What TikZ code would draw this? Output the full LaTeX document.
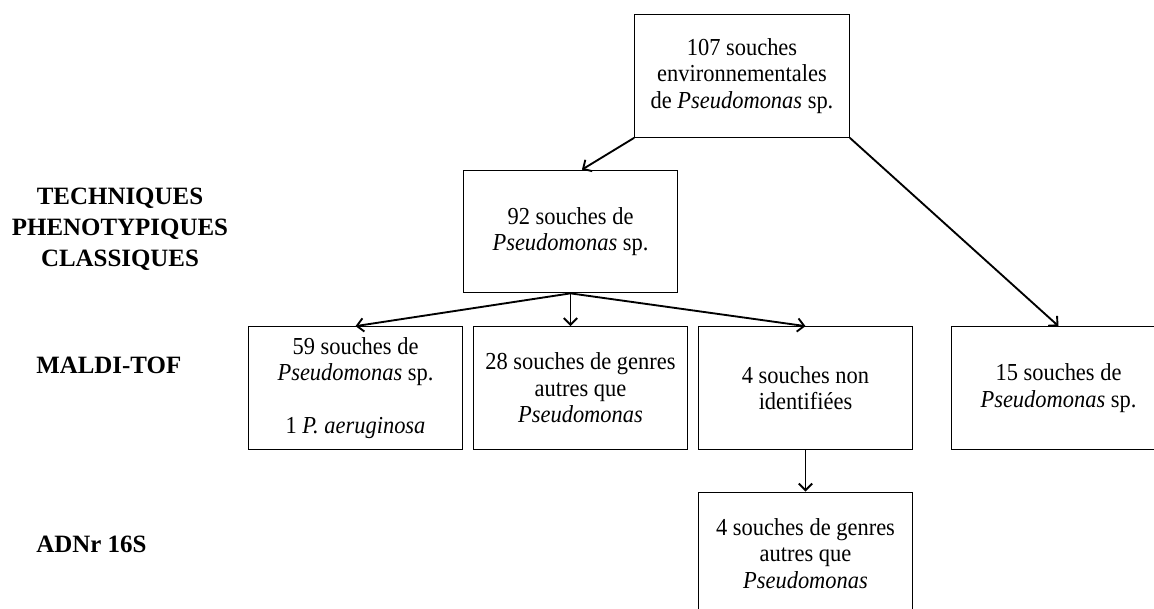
\documentclass[tikz,border=0pt]{standalone}
\usepackage{fontspec}
\setmainfont{Liberation Serif}
\newfontfamily\corps[FakeStretch=0.92]{Liberation Serif}
\usepackage{tikz}
\usetikzlibrary{positioning}
\usetikzlibrary{arrows.meta}
\tikzset{
    souche/.style={draw, line width=0.8pt, minimum width=161pt, minimum height=92pt, align=center, inner sep=2pt, font=\corps\fontsize{18.3pt}{19.9pt}\selectfont}, % 方框的样式
    fleche/.style={line width=1.4pt, -{Straight Barb[length=5pt, width=10pt]}}, % 箭头的样式
    technique/.style={inner sep=0pt, align=center, font=\fontsize{18.7pt}{23.2pt}\selectfont\bfseries} % 左侧标题的样式
}

\begin{document}
\begin{tikzpicture}[x=0.75pt, y=-0.75pt]
          \useasboundingbox (0,0) rectangle (1154,609);
          \clip (0,0) rectangle (1154,609);

          % --- 1. 左侧的方法标题 ---
          \node[technique] (phenotype) at (120,229) {TECHNIQUES\\PHENOTYPIQUES\\CLASSIQUES};
          \node[technique, anchor=west] (maldi) at (36,365) {MALDI-TOF};
          \node[technique, anchor=west] (adnr) at (36,544) {ADNr 16S};

          % --- 2. 上面两层方框 ---
          \node[souche] (total) at (742,76) {107 souches\\environnementales\\de \textit{Pseudomonas} sp.};
          \node[souche] (p92) at (570.5,231.5) {92 souches de\\\textit{Pseudomonas} sp.};

          % --- 3. MALDI-TOF 一行 ---
          \node[souche] (b59) at (355.5,388) {59 souches de\\\textit{Pseudomonas} sp.\\[19.9pt]1 \textit{P. aeruginosa}};
          \node[souche] (b28) at (580.5,388) {28 souches de genres\\autres que\\\textit{Pseudomonas}};
          \node[souche] (bnon) at (805.5,388) {4 souches non\\identifiées};
          \node[souche] (b15) at (1058.5,388) {15 souches de\\\textit{Pseudomonas} sp.};

          % --- 4. ADNr 16S ---
          \node[souche] (b4) at (805.5,553.5) {4 souches de genres\\autres que\\\textit{Pseudomonas}};

          % --- 5. 箭头 ---
          \draw[fleche] (total.south west) -- ([xshift=8.6pt]p92.north);
          \draw[fleche] (total.south east) -- (b15.north);
          \draw[fleche] (p92.south) -- (b59.north);
          \draw[fleche] (p92.south) -- (p92.south |- b28.north);
          \draw[fleche] (p92.south) -- (bnon.north);
          \draw[fleche] (bnon.south) -- (b4.north);

      \end{tikzpicture}
\end{document}
